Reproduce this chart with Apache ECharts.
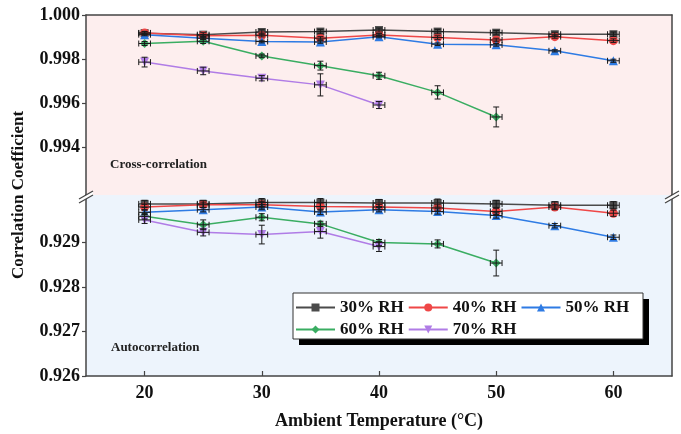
<!DOCTYPE html>
<html><head><meta charset="utf-8">
<script src="https://cdn.jsdelivr.net/npm/echarts@6/dist/echarts.min.js"></script>
<style>html,body{margin:0;padding:0;background:#fff}#c{width:681px;height:434px}</style>
</head><body><div id="c"></div>
<script>
// ---- data ----
const temps = [20, 25, 30, 35, 40, 45, 50, 55, 60];
const seriesNames = ['30% RH', '40% RH', '50% RH', '60% RH', '70% RH'];
// Cross-correlation (upper panel)
const cross30 = [0.99918, 0.99911, 0.99923, 0.99925, 0.99932, 0.99925, 0.99920, 0.99913, 0.99913];
const cross40 = [0.99919, 0.99906, 0.99908, 0.99895, 0.99910, 0.99898, 0.99887, 0.99902, 0.99884];
const cross50 = [0.99911, 0.99895, 0.99880, 0.99878, 0.99902, 0.99868, 0.99865, 0.99838, 0.99793];
const cross60 = [0.99871, 0.99881, 0.99815, 0.99771, 0.99725, 0.99650, 0.99539];
const cross70 = [0.99787, 0.99747, 0.99714, 0.99684, 0.99593];
const crossErr30 = [0.00008, 0.00009, 0.00010, 0.00010, 0.00009, 0.00010, 0.00010, 0.00009, 0.00010];
const crossErr40 = [0.00006, 0.00006, 0.00007, 0.00007, 0.00006, 0.00008, 0.00008, 0.00007, 0.00008];
const crossErr50 = [0.00005, 0.00005, 0.00006, 0.00006, 0.00005, 0.00006, 0.00006, 0.00005, 0.00007];
const crossErr60 = [0.00009, 0.00010, 0.00008, 0.00020, 0.00016, 0.00030, 0.00045];
const crossErr70 = [0.00022, 0.00017, 0.00012, 0.00050, 0.00016];
// Autocorrelation (lower panel)
const auto30 = [0.92987, 0.92987, 0.92990, 0.92990, 0.92989, 0.92989, 0.92987, 0.92984, 0.92984];
const auto40 = [0.92980, 0.92985, 0.92985, 0.92981, 0.92980, 0.92978, 0.92970, 0.92980, 0.92966];
const auto50 = [0.92968, 0.92974, 0.92980, 0.92969, 0.92974, 0.92970, 0.92961, 0.92938, 0.92912];
const auto60 = [0.92959, 0.92940, 0.92957, 0.92942, 0.92900, 0.92897, 0.92854];
const auto70 = [0.92951, 0.92923, 0.92918, 0.92925, 0.92891];
const autoErr30 = [0.00008, 0.00008, 0.00009, 0.00009, 0.00008, 0.00009, 0.00008, 0.00008, 0.00008];
const autoErr40 = [0.00006, 0.00006, 0.00007, 0.00008, 0.00006, 0.00007, 0.00007, 0.00006, 0.00007];
const autoErr50 = [0.00005, 0.00005, 0.00006, 0.00006, 0.00005, 0.00006, 0.00006, 0.00005, 0.00005];
const autoErr60 = [0.00006, 0.00011, 0.00008, 0.00006, 0.00007, 0.00009, 0.00029];
const autoErr70 = [0.00008, 0.00008, 0.00021, 0.00015, 0.00011];
const tempErr = 0.5;
const xTicks = [20, 30, 40, 50, 60];
const crossTicks = [0.994, 0.996, 0.998, 1.000];
const autoTicks = [0.926, 0.927, 0.928, 0.929];

// ---- styles ----
const colors = ['#4b4b4b', '#ef4747', '#2e7be4', '#3aad62', '#b07ce6'];
const symbols = ['rect', 'circle', 'triangle', 'diamond', 'path://M0,0L2,0L1,1.732Z'];
const FONT = "'Liberation Serif','Times New Roman',serif";
const crossVals = [cross30, cross40, cross50, cross60, cross70];
const crossErrs = [crossErr30, crossErr40, crossErr50, crossErr60, crossErr70];
const autoVals = [auto30, auto40, auto50, auto60, auto70];
const autoErrs = [autoErr30, autoErr40, autoErr50, autoErr60, autoErr70];

const chart = echarts.init(document.getElementById('c'));

function errRender(params, api) {
  const x = api.value(0), y = api.value(1), e = api.value(2);
  const t = api.coord([x, y + e]), b = api.coord([x, y - e]);
  const l = api.coord([x - tempErr, y]), r = api.coord([x + tempErr, y]);
  const cap = 3;
  const st = { stroke: '#1a1a1a', lineWidth: 1 };
  const ln = (x1, y1, x2, y2) => ({ type: 'line', shape: { x1, y1, x2, y2 }, style: st });
  return {
    type: 'group', children: [
      ln(t[0], t[1], b[0], b[1]),
      ln(t[0] - cap, t[1], t[0] + cap, t[1]),
      ln(b[0] - cap, b[1], b[0] + cap, b[1]),
      ln(l[0], l[1], r[0], r[1]),
      ln(l[0], l[1] - cap, l[0], l[1] + cap),
      ln(r[0], r[1] - cap, r[0], r[1] + cap)
    ]
  };
}

const series = [];
[[crossVals, crossErrs, 0, 0], [autoVals, autoErrs, 1, 2]].forEach(([vals, errs, xi, yi]) => {
  vals.forEach((arr, k) => {
    series.push({
      type: 'line', name: seriesNames[k], xAxisIndex: xi, yAxisIndex: yi,
      data: arr.map((v, i) => [temps[i], v]),
      symbol: symbols[k], symbolSize: k === 0 ? 8 : 9,
      lineStyle: { color: colors[k], width: 1.5 },
      itemStyle: { color: colors[k] },
      z: 3, animation: false
    });
    series.push({
      type: 'custom', xAxisIndex: xi, yAxisIndex: yi,
      data: arr.map((v, i) => [temps[i], v, errs[k][i]]),
      renderItem: errRender, z: 4, animation: false, silent: true
    });
  });
});

const lbl = { fontFamily: FONT, fontWeight: 'bold', fontSize: 18, color: '#111' };
const axLine = { show: true, lineStyle: { color: '#444', width: 1.5 } };
const legText = { fontFamily: FONT, fontWeight: 'bold', fontSize: 17, color: '#111', padding: [0, 0, 0, 0] };

const option = {
  animation: false,
  grid: [
    { left: 86, top: 15, width: 586, height: 180, show: true, backgroundColor: '#fdeeee', borderWidth: 0 },
    { left: 86, top: 195, width: 586, height: 181, show: true, backgroundColor: '#edf4fc', borderWidth: 0 }
  ],
  xAxis: [
    { type: 'value', gridIndex: 0, min: 15, max: 65, position: 'top', axisLine: axLine,
      axisTick: { show: false }, axisLabel: { show: false }, splitLine: { show: false } },
    { type: 'value', gridIndex: 1, min: 15, max: 65, position: 'bottom', axisLine: axLine,
      axisTick: { show: true, inside: true, length: 5, customValues: xTicks, lineStyle: { color: '#444', width: 1.2 } },
      axisLabel: Object.assign({ customValues: xTicks, margin: 8 }, lbl), splitLine: { show: false },
      name: 'Ambient Temperature (°C)', nameLocation: 'middle', nameGap: 36,
      nameTextStyle: { fontFamily: FONT, fontWeight: 'bold', fontSize: 18, color: '#111' } }
  ],
  yAxis: [
    { type: 'value', gridIndex: 0, min: 0.99186, max: 1.0, position: 'left', axisLine: axLine,
      axisTick: { show: true, length: 4, customValues: crossTicks, lineStyle: { color: '#444', width: 1.2 } },
      axisLabel: Object.assign({ customValues: crossTicks, margin: 6, formatter: v => v.toFixed(3) }, lbl),
      splitLine: { show: false } },
    { type: 'value', gridIndex: 0, min: 0.99186, max: 1.0, position: 'right', axisLine: axLine,
      axisTick: { show: false }, axisLabel: { show: false }, splitLine: { show: false } },
    { type: 'value', gridIndex: 1, min: 0.926, max: 0.93007, position: 'left', axisLine: axLine,
      axisTick: { show: true, length: 4, customValues: autoTicks, lineStyle: { color: '#444', width: 1.2 } },
      axisLabel: Object.assign({ customValues: autoTicks, margin: 6, formatter: v => v.toFixed(3) }, lbl),
      splitLine: { show: false } },
    { type: 'value', gridIndex: 1, min: 0.926, max: 0.93007, position: 'right', axisLine: axLine,
      axisTick: { show: false }, axisLabel: { show: false }, splitLine: { show: false } }
  ],
  legend: [
    { data: seriesNames.slice(0, 3), left: 295, top: 299, itemWidth: 39, itemHeight: 10, itemGap: 4,
      textStyle: legText, padding: 0, z: 10 },
    { data: seriesNames.slice(3), left: 295, top: 321, itemWidth: 39, itemHeight: 10, itemGap: 4,
      textStyle: legText, padding: 0, z: 10 }
  ],
  graphic: [
    { type: 'rect', z: 8, shape: { x: 299, y: 299, width: 350, height: 46 }, style: { fill: '#000' } },
    { type: 'rect', z: 9, shape: { x: 293, y: 293, width: 350, height: 46 }, style: { fill: '#fff', stroke: '#333', lineWidth: 1 } },
    { type: 'text', z: 9, x: 110, y: 165, style: { text: 'Cross-correlation', fontFamily: FONT, fontWeight: 'bold', fontSize: 13, fill: '#222', verticalAlign: 'middle' } },
    { type: 'text', z: 9, x: 111, y: 348, style: { text: 'Autocorrelation', fontFamily: FONT, fontWeight: 'bold', fontSize: 13, fill: '#222', verticalAlign: 'middle' } },
    { type: 'text', z: 9, x: 19, y: 195, rotation: Math.PI / 2, style: { text: 'Correlation Coefficient', fontFamily: FONT, fontWeight: 'bold', fontSize: 17, fill: '#111', align: 'center', verticalAlign: 'middle' } },
    // axis break marks
    { type: 'polygon', z: 9, shape: { points: [[79, 199], [93, 191], [93, 195], [79, 203]] }, style: { fill: '#fff' } },
    { type: 'line', z: 10, shape: { x1: 79, y1: 199, x2: 93, y2: 191 }, style: { stroke: '#444', lineWidth: 1.3 } },
    { type: 'line', z: 10, shape: { x1: 79, y1: 203, x2: 93, y2: 195 }, style: { stroke: '#444', lineWidth: 1.3 } },
    { type: 'polygon', z: 9, shape: { points: [[665, 199], [679, 191], [679, 195], [665, 203]] }, style: { fill: '#fff' } },
    { type: 'line', z: 10, shape: { x1: 665, y1: 199, x2: 679, y2: 191 }, style: { stroke: '#444', lineWidth: 1.3 } },
    { type: 'line', z: 10, shape: { x1: 665, y1: 203, x2: 679, y2: 195 }, style: { stroke: '#444', lineWidth: 1.3 } }
  ],
  series: series
};
chart.setOption(option);
</script>
</body></html>
